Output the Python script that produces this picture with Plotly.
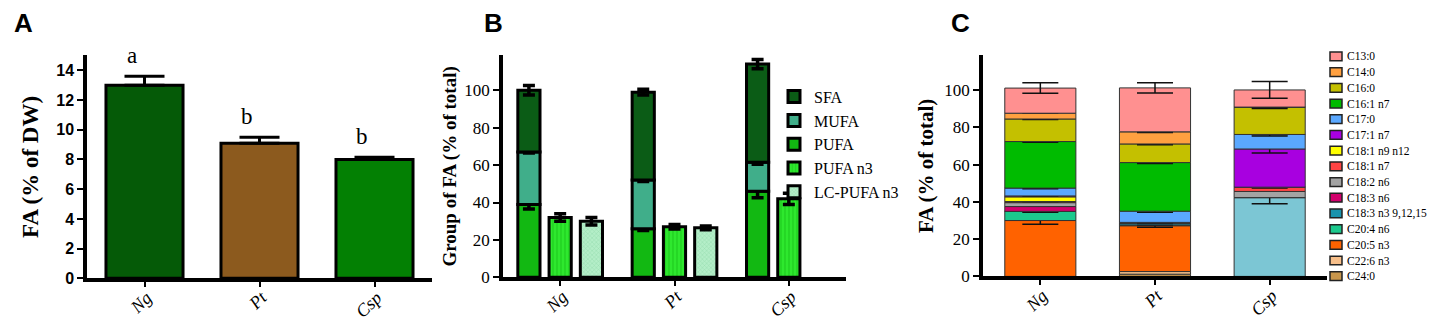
import numpy as np
import plotly.graph_objects as go

W, H = 1437, 322

species = ["Ng", "Pt", "Csp"]
species_ticks = ["<i>Ng</i>", "<i>Pt</i>", "<i>Csp</i>"]

# ---- Panel A: total FA (% of DW)
fa_dw = [13.0, 9.1, 8.0]
fa_dw_err = [0.6, 0.4, 0.15]
fa_dw_letters = ["a", "b", "b"]
fa_dw_colors = ["#055a07", "#8c5a1e", "#038003"]

# ---- Panel B: groups of FA (% of total)
pufa = [39.0, 26.0, 46.0]
pufa_err = [2.5, 1.0, 3.5]
mufa = [28.0, 26.0, 15.5]
mufa_err = [0.5, 0.8, 1.0]
sfa = [33.0, 47.0, 52.5]
sfa_err = [2.5, 1.5, 2.5]
pufa_n3 = [32.0, 27.0, 42.0]
pufa_n3_err = [2.0, 1.2, 3.0]
lc_pufa_n3 = [30.0, 26.5, None]
lc_pufa_n3_err = [2.0, 1.0, None]

# ---- Panel C: FA profile (% of total), bottom -> top
fa_names = ["C24:0", "C22:6 n3", "C20:5 n3", "C20:4 n6", "C18:3 n3 9,12,15",
            "C18:3 n6", "C18:2 n6", "C18:1 n7", "C18:1 n9 n12", "C17:1 n7",
            "C17:0", "C16:1 n7", "C16:0", "C14:0", "C13:0"]
fa_values = {
    "C24:0":            [0.0, 1.2, 0.0],
    "C22:6 n3":         [0.0, 1.4, 0.0],
    "C20:5 n3":         [30.0, 24.6, 0.0],
    "C20:4 n6":         [4.9, 0.4, 0.0],
    "C18:3 n3 9,12,15": [0.0, 0.8, 42.3],
    "C18:3 n6":         [2.6, 0.3, 0.0],
    "C18:2 n6":         [2.1, 0.3, 3.3],
    "C18:1 n7":         [0.6, 0.0, 2.3],
    "C18:1 n9 n12":     [2.5, 0.0, 0.0],
    "C17:1 n7":         [0.5, 0.0, 20.5],
    "C17:0":            [4.2, 6.0, 7.8],
    "C16:1 n7":         [25.0, 26.1, 0.0],
    "C16:0":            [12.1, 10.0, 14.7],
    "C14:0":            [3.1, 6.5, 0.0],
    "C13:0":            [13.5, 23.6, 9.2],
}
fa_errors = {
    "C20:5 n3":         [2.0, 0.8, None],
    "C20:4 n6":         [0.4, None, None],
    "C18:3 n3 9,12,15": [None, None, 3.3],
    "C18:1 n7":         [None, None, 0.5],
    "C17:1 n7":         [None, None, 2.2],
    "C17:0":            [0.4, 0.5, 0.8],
    "C16:1 n7":         [0.4, 0.5, None],
    "C16:0":            [0.3, 0.4, 0.8],
    "C14:0":            [None, 0.3, None],
    "C13:0":            [2.8, 2.8, 4.5],
}
fa_colors = {
    "C24:0": "#c8964c", "C22:6 n3": "#f7bf8a", "C20:5 n3": "#ff6200",
    "C20:4 n6": "#1cc98d", "C18:3 n3 9,12,15": "#1a93ad", "C18:3 n6": "#d2006c",
    "C18:2 n6": "#a3a3a3", "C18:1 n7": "#ff4444", "C18:1 n9 n12": "#ffff00",
    "C17:1 n7": "#a800e0", "C17:0": "#5aa8ff", "C16:1 n7": "#00bb00",
    "C16:0": "#c4c000", "C14:0": "#ffa040", "C13:0": "#ff9090",
}
csp_c183_color = "#7cc6d4"

SERIF = "Liberation Serif"
SANS = "Liberation Sans"


def px_x(p):
    return p / W


def px_y(p):
    return 1 - p / H


fig = go.Figure()

# ---------------- Panel A
fig.add_trace(go.Bar(
    x=species, y=fa_dw, xaxis="x", yaxis="y", width=0.67, showlegend=False,
    marker=dict(color=fa_dw_colors, line=dict(color="black", width=3)),
    error_y=dict(type="data", array=fa_dw_err, arrayminus=[0] * 3, symmetric=False,
                 color="black", thickness=3, width=20),
))
for sp, v, e, lt in zip(species, fa_dw, fa_dw_err, fa_dw_letters):
    fig.add_annotation(x=sp, y=v + e, xref="x", yref="y", text=lt, showarrow=False,
                       yanchor="bottom", yshift=6, xshift=-13,
                       font=dict(family=SERIF, size=23, color="black"))

# ---------------- Panel B
b_common = dict(xaxis="x2", yaxis="y2", legend="legend2")
pufa_arr = np.array(pufa)
mufa_arr = np.array(mufa)
fig.add_trace(go.Bar(
    x=species, y=pufa, name="PUFA", offsetgroup="stack", legendrank=3,
    marker=dict(color="#12b812", line=dict(color="black", width=3)),
    error_y=dict(type="data", array=pufa_err, color="black", thickness=3.5, width=6),
    **b_common))
fig.add_trace(go.Bar(
    x=species, y=mufa, base=pufa_arr, name="MUFA", offsetgroup="stack", legendrank=2,
    marker=dict(color="#40ae8a", line=dict(color="black", width=3)),
    error_y=dict(type="data", array=mufa_err, color="black", thickness=3.5, width=6),
    **b_common))
fig.add_trace(go.Bar(
    x=species, y=sfa, base=pufa_arr + mufa_arr, name="SFA", offsetgroup="stack", legendrank=1,
    marker=dict(color="#0b5c16", line=dict(color="black", width=3)),
    error_y=dict(type="data", array=sfa_err, color="black", thickness=3.5, width=6),
    **b_common))
fig.add_trace(go.Bar(
    x=species, y=pufa_n3, name="PUFA n3", offsetgroup="n3", legendrank=4,
    marker=dict(color="#2ee82e", line=dict(color="black", width=3),
                pattern=dict(shape="|", fgcolor="#10b010", bgcolor="#2ee82e", size=4, solidity=0.3)),
    error_y=dict(type="data", array=pufa_n3_err, color="black", thickness=3.5, width=6),
    **b_common))
fig.add_trace(go.Bar(
    x=species, y=lc_pufa_n3, name="LC-PUFA n3", offsetgroup="lc", legendrank=5,
    marker=dict(color="#a6e8bc", line=dict(color="black", width=3),
                pattern=dict(shape="x", fgcolor="#78c894", bgcolor="#b4eec8", size=3, solidity=0.3)),
    error_y=dict(type="data", array=lc_pufa_n3_err, color="black", thickness=3.5, width=6),
    **b_common))

# ---------------- Panel C
cum = np.zeros(3)
for name in fa_names:
    vals = np.array(fa_values[name])
    colors = [fa_colors[name]] * 3
    if name == "C18:3 n3 9,12,15":
        colors[2] = csp_c183_color
    err = fa_errors.get(name)
    kw = {}
    if err is not None:
        kw["error_y"] = dict(type="data", array=err, color="#111111", thickness=1.5, width=18)
    fig.add_trace(go.Bar(
        x=species, y=vals, base=cum.copy(), name=name, offsetgroup="c", width=0.62,
        xaxis="x3", yaxis="y3", showlegend=False,
        marker=dict(color=colors, line=dict(color="#333333", width=1)), **kw))
    cum = cum + vals

# manual legend for panel C (top -> bottom order)
leg_top, leg_step = 50.0, 16.2
for i, name in enumerate(fa_names[::-1]):
    yc = leg_top + i * leg_step
    fig.add_shape(type="rect", xref="paper", yref="paper",
                  x0=px_x(1322), x1=px_x(1334), y0=px_y(yc + 4.5), y1=px_y(yc - 4.5),
                  fillcolor=fa_colors[name], line=dict(color="#222222", width=1.5))
    fig.add_annotation(xref="paper", yref="paper", x=px_x(1337), y=px_y(yc), text=name,
                       showarrow=False, xanchor="left", yanchor="middle",
                       font=dict(family=SERIF, size=11.5, color="black"))

# ---------------- Axes
xcommon = dict(type="category", range=[-0.5, 2.5], showline=True, linecolor="black",
               ticks="outside", ticklen=5, tickwidth=2, tickcolor="black",
               tickangle=-45, tickmode="array", tickvals=species, ticktext=species_ticks,
               tickfont=dict(family=SERIF, size=18, color="black"), ticklabelshift=2,
               ticklabelstandoff=-7,
               showgrid=False, zeroline=False, fixedrange=True)
ycommon = dict(showline=True, linecolor="black", ticks="outside", ticklen=6, tickwidth=2,
               tickcolor="black", showgrid=False, zeroline=False, fixedrange=True)

fig.update_layout(
    width=W, height=H, margin=dict(l=0, r=0, t=0, b=0),
    paper_bgcolor="white", plot_bgcolor="white",
    barmode="group", bargap=0.18, bargroupgap=0.29,
    xaxis=dict(domain=[px_x(79), px_x(424)], anchor="y", linewidth=3.5, **xcommon),
    yaxis=dict(domain=[px_y(279), px_y(49)], anchor="x", range=[0, 15], dtick=2, linewidth=3.5,
               tickfont=dict(family=SANS, size=16, color="black", weight="bold"),
               title=dict(text="FA (% of DW)", standoff=12,
                          font=dict(family=SERIF, size=23, color="black", weight="bold")),
               **ycommon),
    xaxis2=dict(domain=[px_x(495), px_x(838)], anchor="y2", linewidth=3.5, **xcommon),
    yaxis2=dict(domain=[px_y(278), px_y(49)], anchor="x2", range=[0, 118.6], dtick=20, linewidth=3.5,
                tickfont=dict(family=SERIF, size=17, color="black"),
                title=dict(text="Group of FA (% of total)", standoff=4,
                           font=dict(family=SERIF, size=19, color="black", weight="bold")),
                **ycommon),
    xaxis3=dict(domain=[px_x(975), px_x(1319)], anchor="y3", linewidth=3.5, **xcommon),
    yaxis3=dict(domain=[px_y(277), px_y(49)], anchor="x3", range=[0, 118.6], dtick=20, linewidth=3.5,
                tickfont=dict(family=SERIF, size=17, color="black"),
                title=dict(text="FA (% of total)", standoff=6,
                           font=dict(family=SERIF, size=21, color="black", weight="bold")),
                **ycommon),
    legend2=dict(x=px_x(766), y=px_y(74), xanchor="left", yanchor="top",
                 font=dict(family=SERIF, size=16, color="black"), bgcolor="rgba(0,0,0,0)",
                 traceorder="normal", itemclick=False, itemdoubleclick=False),
    showlegend=True,
)

for lt, xp in [("A", 4), ("B", 474), ("C", 941)]:
    fig.add_annotation(xref="paper", yref="paper", x=px_x(xp), y=1.0, text=lt, showarrow=False,
                       xanchor="left", yanchor="top", yshift=2,
                       font=dict(family=SANS, size=26, color="black", weight="bold"))

fig.write_html("out.html")
